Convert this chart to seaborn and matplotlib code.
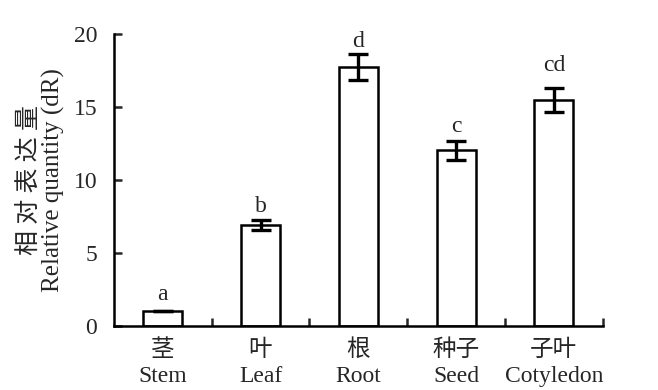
import matplotlib
matplotlib.use("Agg")
import matplotlib.pyplot as plt
import seaborn as sns
import pandas as pd
from matplotlib.ticker import FixedLocator

categories = ["茎\nStem", "叶\nLeaf", "根\nRoot", "种子\nSeed", "子叶\nCotyledon"]
values = [1.0, 6.9, 17.7, 12.0, 15.45]
errors = [0.0, 0.33, 0.88, 0.63, 0.8]
letters = ["a", "b", "d", "c", "cd"]
letter_y = [1.75, 7.8, 19.05, 13.27, 17.45]
yticks = [0, 5, 10, 15, 20]

sns.set_theme(style="ticks")
plt.rcParams["font.family"] = ["Liberation Serif", "Noto Sans CJK SC"]
plt.rcParams["axes.unicode_minus"] = False

df = pd.DataFrame({"cat": categories, "val": values})

fig = plt.figure(figsize=(6.58, 3.9), dpi=100)
ax = fig.add_axes([0.173, 0.165, 0.743, 0.749])

sns.barplot(data=df, x="cat", y="val", ax=ax, width=0.4, color="white",
            edgecolor="black", linewidth=1.8, errorbar=None)

xs = list(range(len(categories)))
ax.errorbar(xs, values, yerr=errors, fmt="none", ecolor="black",
            elinewidth=2.4, capsize=7, capthick=2.4)

for x, ly, lab in zip(xs, letter_y, letters):
    ax.text(x, ly, lab, ha="center", va="baseline", fontsize=17, clip_on=False)

ax.set_xlim(-0.5, 4.5)
ax.set_ylim(0, 20)
ax.set_yticks(yticks)
ax.set_yticklabels([str(t) for t in yticks], fontsize=17)
ax.tick_params(axis="y", direction="in", length=6, width=1.8, pad=12)
ax.xaxis.set_major_locator(FixedLocator(xs))
ax.set_xticklabels(categories, fontsize=17, linespacing=1.3, fontweight="light")
ax.tick_params(axis="x", which="major", length=0, pad=10)
ax.xaxis.set_minor_locator(FixedLocator([0.5, 1.5, 2.5, 3.5, 4.5]))
ax.tick_params(axis="x", which="minor", direction="in", length=6, width=1.8)

ax.set_xlabel("")
ax.set_ylabel("相 对 表 达 量\nRelative quantity (dR)", fontsize=18, linespacing=1.05,
              labelpad=6, fontweight="light")

sns.despine(ax=ax)
for s in ["left", "bottom"]:
    ax.spines[s].set_linewidth(1.8)
    ax.spines[s].set_color("black")

fig.savefig("out.png", dpi=100, facecolor="white")
